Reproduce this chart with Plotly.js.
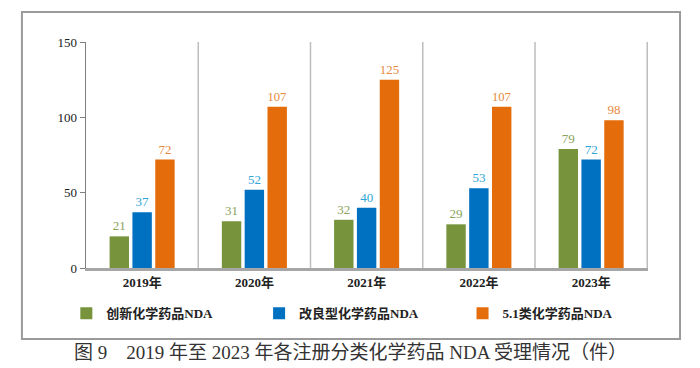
<!DOCTYPE html>
<html><head><meta charset="utf-8">
<script src="https://cdn.plot.ly/plotly-3.0.1.min.js"></script>
<style>body{margin:0;background:#fff}#c{width:700px;height:368px}</style>
</head><body><div id="c"></div>
<script>
const years = ['2019年','2020年','2021年','2022年','2023年'];
const innovative = [21, 31, 32, 29, 79];
const improved = [37, 52, 40, 53, 72];
const class51 = [72, 107, 125, 107, 98];
const seriesNames = ['创新化学药品NDA','改良型化学药品NDA','5.1类化学药品NDA'];
const caption = '图 9　2019 年至 2023 年各注册分类化学药品 NDA 受理情况（件）';

const serif = 'Liberation Serif, Noto Sans CJK SC, serif';
function tr(name, vals, color, labelColor, lg){
  return {type:'bar', name:name, x:years, y:vals, legend:lg,
    marker:{color:color},
    text:vals.map(String), textposition:'outside', cliponaxis:false,
    textfont:{family:serif, size:13, color:labelColor}};
}
const data = [
  tr(seriesNames[0], innovative, '#77933C', '#8AA35A', 'legend'),
  tr(seriesNames[1], improved, '#0070C0', '#2EA6D6', 'legend2'),
  tr(seriesNames[2], class51, '#E46C0A', '#E8893C', 'legend3')
];
const shapes = [];
for (let i=0;i<years.length;i++){
  shapes.push({type:'line', xref:'x', yref:'paper', x0:i+0.5, x1:i+0.5, y0:0, y1:1,
    line:{color:'#BDBDBD', width:1.5}});
}
shapes.push({type:'rect', xref:'paper', yref:'paper', x0:-0.114, x1:1.057, y0:-0.314, y1:1.133,
  line:{color:'#9A9A9A', width:2}, layer:'below'});
const legFont = {family:serif, size:13, color:'#222', weight:'bold'};
function leg(x){ return {orientation:'h', x:x, xanchor:'left', y:-0.2, yanchor:'middle',
  itemwidth:30, font:legFont, bgcolor:'rgba(0,0,0,0)'}; }
const layout = {
  width:700, height:368,
  margin:{l:86, r:52, t:42, b:100},
  paper_bgcolor:'#fff', plot_bgcolor:'#fff',
  barmode:'group', bargap:0.39, bargroupgap:0.15,
  showlegend:true,
  legend:leg(-0.035), legend2:leg(0.308), legend3:leg(0.67),
  xaxis:{type:'category', showgrid:false, showline:true, linecolor:'#A6A6A6', linewidth:3,
    ticks:'', tickfont:{family:serif, size:13, color:'#222', weight:'bold'}, fixedrange:true},
  yaxis:{range:[0,150], tickvals:[0,50,100,150], showgrid:false, zeroline:false,
    showline:true, linecolor:'#7F7F7F', linewidth:1.5, ticks:'outside', ticklen:5, tickcolor:'#7F7F7F',
    tickfont:{family:serif, size:13, color:'#222'}},
  shapes:shapes,
  annotations:[{xref:'paper', yref:'paper', x:0.47, y:-0.375, xanchor:'center', yanchor:'middle',
    text:caption, showarrow:false, font:{family:serif, size:19, color:'#333'}}]
};
Plotly.newPlot('c', data, layout, {displayModeBar:false, staticPlot:true});
</script></body></html>
